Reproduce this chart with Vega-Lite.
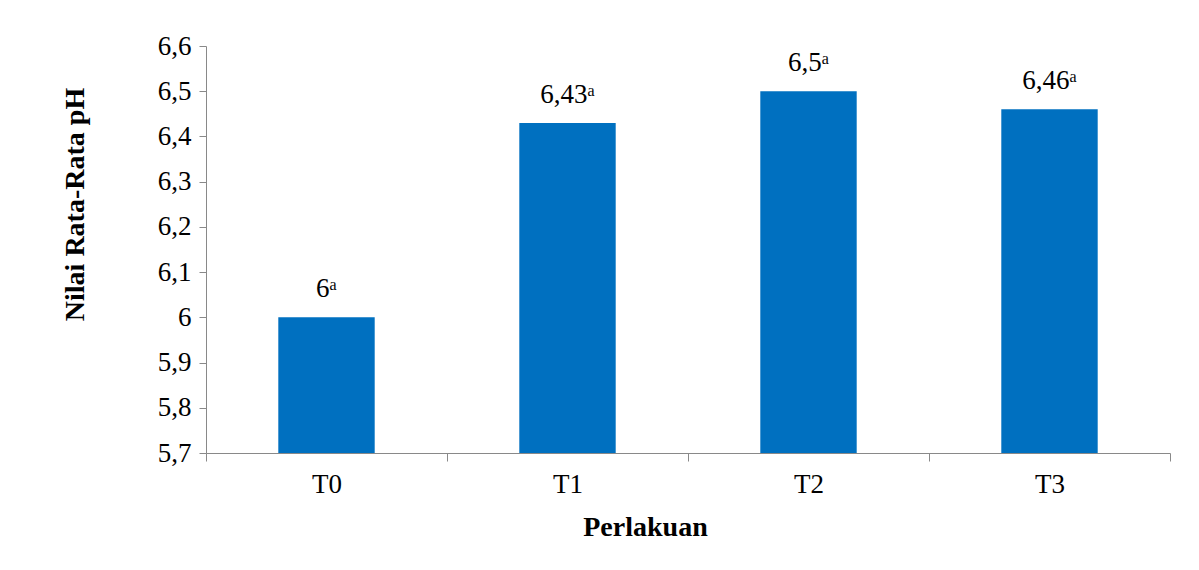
{
  "$schema": "https://vega.github.io/schema/vega-lite/v6.json",
  "autosize": "none",
  "width": 964,
  "height": 407,
  "padding": {"left": 206, "top": 46, "right": 29, "bottom": 117},
  "background": "white",
  "config": {"view": {"stroke": null}, "font": "Liberation Serif"},
  "data": {"values": [
    {"Perlakuan": "T0", "pH": 6.0, "label": "6ᵃ"},
    {"Perlakuan": "T1", "pH": 6.43, "label": "6,43ᵃ"},
    {"Perlakuan": "T2", "pH": 6.5, "label": "6,5ᵃ"},
    {"Perlakuan": "T3", "pH": 6.46, "label": "6,46ᵃ"}
  ]},
  "encoding": {
    "x": {
      "field": "Perlakuan", "type": "nominal", "sort": null,
      "scale": {"paddingInner": 0, "paddingOuter": 0},
      "axis": {
        "tickBand": "extent", "tickSize": 8, "tickColor": "#898989", "domainColor": "#898989",
        "labelAngle": 0, "labelFontSize": 27, "labelColor": "black", "labelPadding": 31, "labelBaseline": "alphabetic",
        "title": "Perlakuan", "titleFontSize": 28, "titleFontWeight": "bold", "titleColor": "black",
        "titleX": 439, "titleY": 82, "titleBaseline": "alphabetic", "titleAlign": "center"
      }
    },
    "y": {
      "field": "pH", "type": "quantitative",
      "scale": {"domain": [5.7, 6.6], "zero": false, "nice": false},
      "axis": {
        "values": [5.7, 5.8, 5.9, 6.0, 6.1, 6.2, 6.3, 6.4, 6.5, 6.6],
        "labelExpr": "replace(format(datum.value, '.2~f'), '.', ',')",
        "grid": false, "tickSize": 7, "tickColor": "#898989", "domainColor": "#898989",
        "labelFontSize": 27, "labelColor": "black", "labelPadding": 8,
        "title": "Nilai Rata-Rata pH", "titleFontSize": 28, "titleFontWeight": "bold", "titleColor": "black",
        "titleX": -123, "titleY": 158, "titleBaseline": "alphabetic", "titleAlign": "center", "titleAngle": -90
      }
    }
  },
  "layer": [
    {"mark": {"type": "bar", "color": "#0070C0", "width": {"band": 0.4}}, "encoding": {"y2": {"datum": 5.7}}},
    {"mark": {"type": "text", "dy": -20, "baseline": "alphabetic", "fontSize": 27, "color": "black", "font": "Liberation Serif, DejaVu Serif"},
     "encoding": {"text": {"field": "label"}}}
  ]
}
